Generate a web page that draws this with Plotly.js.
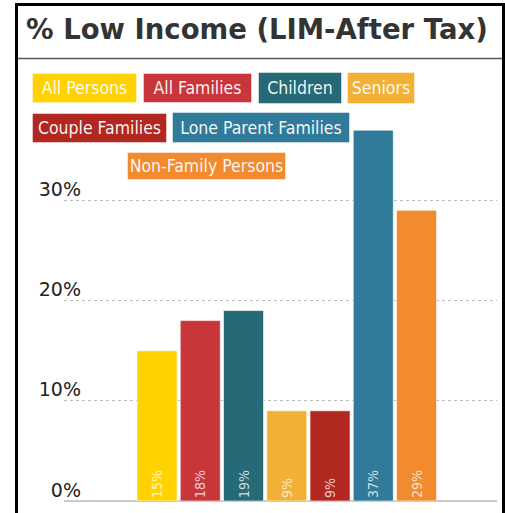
<!DOCTYPE html>
<html><head><meta charset="utf-8">
<script src="https://cdn.plot.ly/plotly-3.0.1.min.js"></script>
<style>html,body{margin:0;padding:0;background:#fff}#chart{width:505px;height:513px}</style>
</head><body><div id="chart"></div>
<script>
const categories = ["All Persons","All Families","Children","Seniors","Couple Families","Lone Parent Families","Non-Family Persons"];
const values = [15,18,19,9,9,37,29];
const colors = ["#FFD200","#C9363A","#266A78","#F2B035","#B0281F","#2F7B99","#F28A30"];
const yTicks = [0,10,20,30];
const yTickLabels = ["0%","10%","20%","30%"];

const W = 505, H = 513, ML = 64, MR = 8, MT = 60, MB = 12;
const PW = W - ML - MR, PH = H - MT - MB;
const px = x => (x - ML) / PW;
const py = y => (H - MB - y) / PH;
const narrow = "DejaVu Sans Condensed, Liberation Sans Narrow, sans-serif";

// legend box layout [left, top, width, height] in pixels
const boxes = [[32,73,105,30],[143,73,109,30],[258,72,84,32],[347,72,68,32],[32,113,135,30],[172,112,178,31],[127,152,159,28]];

const annotations = categories.map((c,i) => ({
  text: c, showarrow: false, xref: 'paper', yref: 'paper',
  x: px(boxes[i][0]), y: py(boxes[i][1]), xanchor: 'left', yanchor: 'top',
  width: boxes[i][2]-2, height: boxes[i][3]-2, borderpad: 0,
  bgcolor: colors[i], bordercolor: 'rgba(255,255,255,0.45)', borderwidth: 1,
  align: 'center', valign: 'middle',
  font: {family: narrow, size: 17.5, stretch: 'condensed', color: 'rgba(255,255,255,0.95)'}
}));

const trace = {
  type: 'bar', x: categories, y: values,
  marker: {color: colors, line: {color: 'rgba(255,255,255,0.6)', width: 1}},
  text: values.map(v => v + '%'), textposition: 'inside', insidetextanchor: 'start',
  textangle: -90, constraintext: 'none',
  textfont: {family: narrow, size: 14, stretch: 'condensed', color: 'rgba(255,255,255,0.78)'},
  hoverinfo: 'none'
};

const layout = {
  width: W, height: H, margin: {l: ML, r: MR, t: MT, b: MB},
  paper_bgcolor: '#fff', plot_bgcolor: '#fff', showlegend: false, bargap: 0.075,
  title: {text: '% Low Income (LIM-After Tax)', xref: 'container', yref: 'container',
    x: 26/W, xanchor: 'left', y: 1 - 29/H, yanchor: 'middle',
    font: {family: 'DejaVu Sans', size: 27.5, weight: 700, color: '#333'}},
  xaxis: {type: 'category', range: [-2.15, 7.86], showticklabels: false, showgrid: false,
    zeroline: false, showline: false, ticks: '', fixedrange: true},
  yaxis: {range: [0, 44], tickvals: yTicks, ticktext: yTickLabels, anchor: 'free', position: px(81),
    showgrid: true, gridcolor: '#bbb', griddash: 'dot', gridwidth: 1,
    zeroline: true, zerolinecolor: '#ccc', zerolinewidth: 2, showline: false, ticks: '',
    ticklabelshift: -11, tickfont: {family: 'DejaVu Sans', size: 19, color: '#222'}},
  shapes: [
    {type: 'rect', xref: 'paper', yref: 'paper', x0: px(16.5), x1: px(503.5), y0: py(540), y1: py(4.5),
      line: {color: '#000', width: 3}, fillcolor: 'rgba(0,0,0,0)', layer: 'above'},
    {type: 'line', xref: 'paper', yref: 'paper', x0: px(18), x1: px(502), y0: py(58.5), y1: py(58.5),
      line: {color: '#555', width: 1.5}}
  ],
  annotations: annotations
};

Plotly.newPlot('chart', [trace], layout, {displayModeBar: false, staticPlot: true});
</script></body></html>
